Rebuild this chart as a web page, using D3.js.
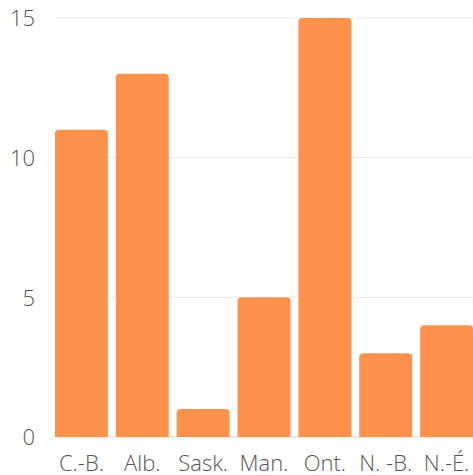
<!DOCTYPE html>
<html>
<head>
<meta charset="utf-8">
<script src="https://cdn.jsdelivr.net/npm/d3@7"></script>
<style>
  html, body { margin: 0; padding: 0; background: #fff; }
  svg { display: block; }
  text { font-family: "Open Sans", sans-serif; }
</style>
</head>
<body>
<svg id="chart" width="473" height="475"></svg>
<script>
// Provinces and their counts
const categories = ["C.-B.", "Alb.", "Sask.", "Man.", "Ont.", "N. -B.", "N.-É."];
const values = [11, 13, 1, 5, 15, 3, 4];
const yTicks = [0, 5, 10, 15];

const width = 473, height = 475;
const margin = { top: 18, right: -4, bottom: 38, left: 51 };

const svg = d3.select("#chart");

const x = d3.scaleBand()
  .domain(categories)
  .range([margin.left, width - margin.right])
  .paddingInner(0.13)
  .paddingOuter(0.065);

const y = d3.scaleLinear()
  .domain([0, 15])
  .range([height - margin.bottom, margin.top]);

// Horizontal gridlines
svg.append("g")
  .selectAll("line")
  .data(yTicks)
  .join("line")
  .attr("x1", x(categories[0]))
  .attr("x2", width)
  .attr("y1", d => y(d))
  .attr("y2", d => y(d))
  .attr("stroke", d => d === 0 ? "#d4d4d4" : "#e8e8e8")
  .attr("stroke-width", 1);

// Y axis labels
const yAxis = d3.axisLeft(y).tickValues(yTicks).tickSize(0).tickPadding(0);
svg.append("g")
  .attr("transform", `translate(35,0)`)
  .call(yAxis)
  .call(g => g.select(".domain").remove())
  .call(g => g.selectAll("text")
    .attr("fill", "#555")
    .attr("font-size", 22)
    .attr("font-family", "'Open Sans', sans-serif")
    .attr("font-weight", 300)
    .attr("dy", "0.36em"));

// Bars with rounded top corners
const r = 4;
function barPath(d, i) {
  const x0 = x(categories[i]), w = x.bandwidth();
  const yt = y(d), yb = y(0);
  const rr = Math.min(r, (yb - yt));
  return `M${x0},${yb} V${yt + rr} Q${x0},${yt} ${x0 + rr},${yt} H${x0 + w - rr} Q${x0 + w},${yt} ${x0 + w},${yt + rr} V${yb} Z`;
}
svg.append("g")
  .selectAll("path")
  .data(values)
  .join("path")
  .attr("d", barPath)
  .attr("fill", "#fe914c");

// X axis labels
const xAxis = d3.axisBottom(x).tickSize(0).tickPadding(0);
svg.append("g")
  .attr("transform", `translate(0,${y(0)})`)
  .call(xAxis)
  .call(g => g.select(".domain").remove())
  .call(g => g.selectAll("text")
    .attr("fill", "#555")
    .attr("font-size", 22)
    .attr("font-family", "'Open Sans', sans-serif")
    .attr("font-weight", 300)
    .attr("dy", null)
    .attr("y", 34));
</script>
</body>
</html>
